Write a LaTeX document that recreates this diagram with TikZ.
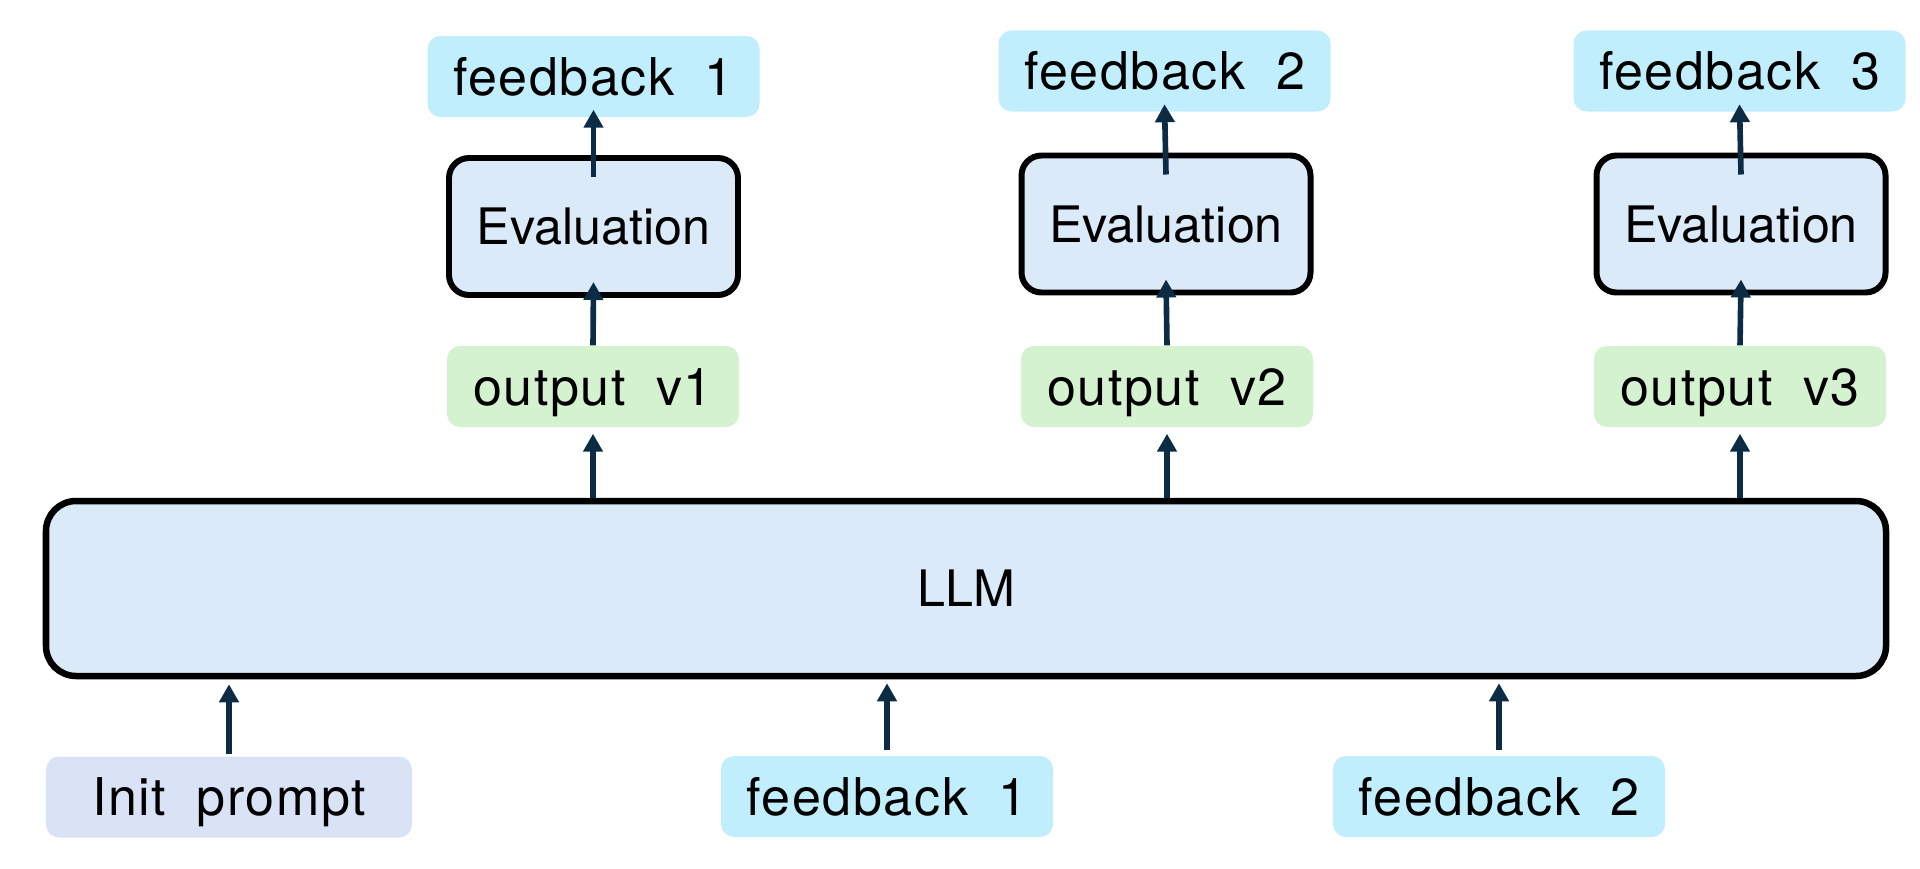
\documentclass[tikz,border=0pt]{standalone}
\usepackage{fontspec}
\setmainfont{TeX Gyre Heros}
\newfontfamily\tagfont[LetterSpace=3.0,WordSpace=1.9]{TeX Gyre Heros}
\usepackage{tikz}
\usetikzlibrary{positioning,arrows.meta}
\usepackage{xcolor}
\definecolor{mycyan}{RGB}{193,238,253}
\definecolor{mygreen}{RGB}{212,242,208}
\definecolor{myfill}{RGB}{218,234,248}
\definecolor{myprompt}{RGB}{217,227,245}
\definecolor{myarrow}{RGB}{12,44,70}

\begin{document}
\begin{tikzpicture}[
  tag/.style={rectangle, rounded corners=0.13cm, minimum height=0.81cm, inner sep=0pt,
    text height=10.6pt, text depth=0pt, font=\tagfont\fontsize{14.8}{17}\selectfont},
  fbtag/.style={tag, fill=mycyan, minimum width=3.32cm},
  outtag/.style={tag, fill=mygreen, minimum width=2.92cm},
  prompttag/.style={tag, fill=myprompt, minimum width=3.66cm},
  evalbox/.style={draw, line width=1.7pt, rounded corners=0.2cm, fill=myfill,
    minimum width=2.89cm, minimum height=1.37cm, inner sep=0pt,
    text height=10.3pt, text depth=0pt, font=\fontsize{14.3}{17}\selectfont},
  llmbox/.style={evalbox, line width=1.85pt, rounded corners=0.3cm,
    minimum width=18.4cm, minimum height=1.75cm},
  arr/.style={-{Triangle[length=0.18cm,width=0.19cm]}, line width=1.6pt, color=myarrow}
]
  \useasboundingbox (0,0) rectangle (19.2,8.68);

  % LLM
  \node[llmbox] (llm) at (9.66,2.795) {LLM};

  % inputs
  \node[prompttag] (init) at (2.29,0.71) {Init prompt};
  \node[fbtag] (fbin1) at (8.87,0.715) {feedback 1};
  \node[fbtag] (fbin2) at (14.99,0.715) {feedback 2};

  % outputs
  \node[outtag] (out1) at (5.93,4.815) {output v1};
  \node[outtag] (out2) at (11.67,4.815) {output v2};
  \node[outtag] (out3) at (17.40,4.815) {output v3};

  % evaluation
  \node[evalbox] (eval1) at (5.935,6.415) {Evaluation};
  \node[evalbox] (eval2) at (11.66,6.44) {Evaluation};
  \node[evalbox] (eval3) at (17.41,6.44) {Evaluation};

  % feedback
  \node[fbtag] (fb1) at (5.935,7.915) {feedback 1};
  \node[fbtag] (fb2) at (11.645,7.97) {feedback 2};
  \node[fbtag] (fb3) at (17.395,7.97) {feedback 3};

  % arrows into the LLM
  \draw[arr, shorten <=0.02cm, shorten >=0.05cm] (init.north) -- (init.north |- llm.south);
  \draw[arr, shorten <=0.05cm, shorten >=0.04cm] (fbin1.north) -- (fbin1.north |- llm.south);
  \draw[arr, shorten <=0.05cm, shorten >=0.04cm] (fbin2.north) -- (fbin2.north |- llm.south);

  % arrows up each column
  \draw[arr, shorten >=0.06cm] (out1.south |- llm.north) -- (out1.south);
  \draw[arr, shorten >=0.06cm] (out2.south |- llm.north) -- (out2.south);
  \draw[arr, shorten >=0.06cm] (out3.south |- llm.north) -- (out3.south);

  \draw[arr] (out1.north) -- ([yshift=0.16cm]eval1.south);
  \draw[arr] (out2.north) -- ([yshift=0.16cm]eval2.south);
  \draw[arr] (out3.north) -- ([yshift=0.16cm]eval3.south);

  \draw[arr] ([yshift=-0.22cm]eval1.north) -- ([yshift=0.08cm]fb1.south);
  \draw[arr] ([yshift=-0.22cm]eval2.north) -- ([yshift=0.08cm]fb2.south);
  \draw[arr] ([yshift=-0.22cm]eval3.north) -- ([yshift=0.08cm]fb3.south);
\end{tikzpicture}
\end{document}
